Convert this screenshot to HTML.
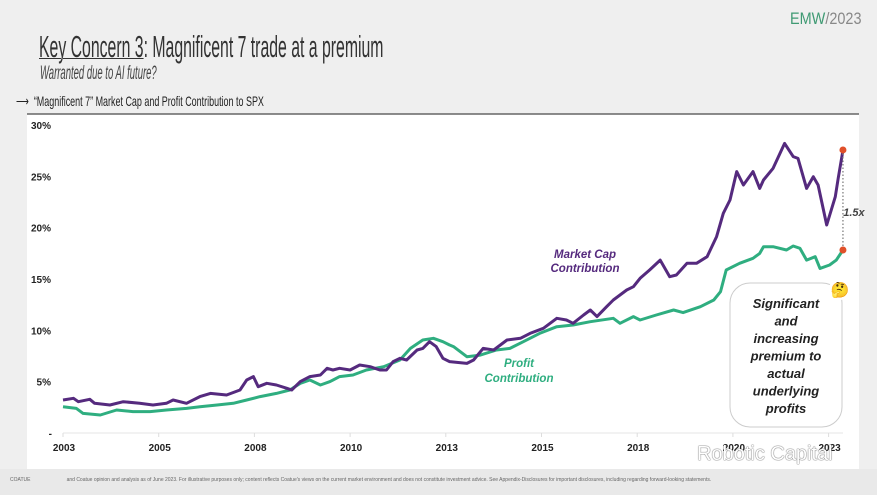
<!DOCTYPE html>
<html><head><meta charset="utf-8"><style>
html,body{margin:0;padding:0}
body{width:877px;height:495px;background:#efefef;position:relative;overflow:hidden;font-family:"Liberation Sans",sans-serif}
.abs{position:absolute;white-space:nowrap;transform-origin:0 0}
</style></head><body>
<div class="abs" style="left:790px;top:9px;font-size:17px;color:#888;transform:scaleX(0.85)"><span style="color:#3f9a73">EMW</span>/2023</div>
<div class="abs" style="left:39px;top:29px;font-size:31px;color:#333;transform:scaleX(0.51)"><span style="text-decoration:underline;text-decoration-thickness:1px">Key Concern 3</span>: Magnificent 7 trade at a premium</div>
<div class="abs" style="left:40px;top:63px;font-style:italic;font-size:19px;color:#444;transform:scaleX(0.5)">Warranted due to AI future?</div>
<div class="abs" style="left:16px;top:93px;font-size:14px;color:#222;transform:scaleX(0.64)">⟶&nbsp; “Magnificent 7” Market Cap and Profit Contribution to SPX</div>
<svg id="chart" width="877" height="495" style="position:absolute;left:0;top:0"></svg>
<div class="abs" style="left:10px;top:477px;font-size:5px;color:#666">COATUE &nbsp;&nbsp;&nbsp;&nbsp;&nbsp;&nbsp;&nbsp;&nbsp;&nbsp;&nbsp;&nbsp;&nbsp;&nbsp;&nbsp;&nbsp;&nbsp;&nbsp;&nbsp;&nbsp;&nbsp;&nbsp;&nbsp;&nbsp;&nbsp; and Coatue opinion and analysis as of June 2023. For illustrative purposes only; content reflects Coatue's views on the current market environment and does not constitute investment advice. See Appendix-Disclosures for important disclosures, including regarding forward-looking statements.</div>
<div class="abs" style="left:697px;top:443px;font-size:20px;color:#fff;text-shadow:0 0 1px #555,0 0 1px #555">Robotic Capital</div>
<script>
const yTicks=[0,5,10,15,20,25,30];
const yTickLabels=["-","5%","10%","15%","20%","25%","30%"];
const xTickLabels=["2003","2005","2008","2010","2013","2015","2018","2020","2023"];
const mcapT=[0,0.11,0.16,0.28,0.33,0.49,0.63,0.80,0.94,1.08,1.15,1.29,1.43,1.54,1.71,1.85,1.92,1.99,2.04,2.13,2.23,2.34,2.39,2.48,2.58,2.69,2.76,2.82,2.89,3.00,3.10,3.21,3.31,3.38,3.45,3.52,3.59,3.70,3.76,3.83,3.90,3.97,4.04,4.22,4.29,4.39,4.50,4.64,4.78,4.88,5.02,5.16,5.26,5.33,5.44,5.51,5.58,5.68,5.75,5.89,5.96,6.03,6.13,6.24,6.34,6.41,6.52,6.62,6.73,6.83,6.90,6.97,7.04,7.11,7.21,7.28,7.32,7.42,7.54,7.63,7.68,7.77,7.84,7.89,7.98,8.07,8.10,8.15];
const mcapV=[3.21,3.38,3.05,3.28,2.89,2.73,3.05,2.89,2.73,2.89,3.21,2.89,3.54,3.86,3.70,4.19,5.16,5.49,4.51,4.84,4.67,4.35,4.19,5.00,5.49,5.65,6.30,6.13,6.30,6.13,6.62,6.46,6.13,6.13,6.95,7.27,7.11,8.08,8.24,8.89,8.41,7.27,6.95,6.78,7.11,8.24,8.08,9.06,9.22,9.70,10.19,11.17,11.00,10.68,11.49,11.98,11.33,12.30,12.95,13.92,14.25,15.06,15.87,16.84,15.22,15.38,16.52,16.52,17.17,19.12,21.39,22.69,25.45,24.15,25.45,23.82,24.63,25.77,28.20,26.91,26.74,23.82,24.96,24.15,20.25,23.01,24.80,27.56];
const profitT=[0,0.14,0.21,0.39,0.56,0.73,0.91,1.08,1.29,1.43,1.61,1.78,1.92,2.06,2.23,2.37,2.48,2.58,2.69,2.79,2.89,3.03,3.17,3.35,3.52,3.63,3.76,3.87,3.97,4.04,4.08,4.22,4.36,4.53,4.67,4.81,4.98,5.16,5.33,5.51,5.75,5.82,5.96,6.03,6.20,6.38,6.48,6.66,6.80,6.87,6.93,7.07,7.21,7.28,7.32,7.42,7.56,7.63,7.70,7.77,7.86,7.91,8.01,8.08,8.15];
const profitV=[2.56,2.40,1.91,1.75,2.24,2.08,2.08,2.24,2.40,2.56,2.73,2.89,3.21,3.54,3.86,4.19,4.84,5.16,4.67,5.00,5.49,5.65,6.13,6.46,7.11,8.24,9.06,9.22,8.89,8.57,8.41,7.43,7.59,8.08,8.24,8.89,9.70,10.35,10.52,10.84,11.17,10.68,11.33,11.00,11.49,11.98,11.72,12.30,12.95,13.76,15.87,16.52,17.01,17.49,18.14,18.14,17.82,18.21,17.98,16.84,17.17,16.03,16.36,16.84,17.82];
const premiumLabel="1.5x";

const svg=document.getElementById('chart');
const NS='http://www.w3.org/2000/svg';
const X=t=>63+t*95.7;
const Y=v=>433-v*10.27;
function mk(tag,attrs){const e=document.createElementNS(NS,tag);for(const k in attrs)e.setAttribute(k,attrs[k]);svg.appendChild(e);return e;}
let e;
e=mk('rect',{x:27,y:114,width:832,height:355,fill:'#ffffff'});


e=mk('line',{x1:27,y1:114,x2:859,y2:114,stroke:'#666','stroke-width':1.5});


e=mk('rect',{x:0,y:469,width:877,height:26,fill:'#e9e9e9'});


e=mk('line',{x1:63,y1:433,x2:843,y2:433,stroke:'#e6e6e6','stroke-width':1});


yTicks.forEach((v,i)=>{
  const t=mk('text',{x:i===0?52:51,y:Y(v)+4,'text-anchor':'end','font-size':10,'font-weight':'bold',fill:'#222','font-family':'Liberation Sans, sans-serif'});
  t.textContent=yTickLabels[i];
  
  
});
xTickLabels.forEach((s,i)=>{
  const tk=mk('line',{x1:X(i),y1:433,x2:X(i),y2:437,stroke:'#ddd'});
  
  
  const t=mk('text',{x:X(i)+1,y:451,'text-anchor':'middle','font-size':10,'font-weight':'bold',fill:'#222','font-family':'Liberation Sans, sans-serif'});
  t.textContent=s;
  
  
});
function path(T,V){return T.map((t,i)=>(i?'L':'M')+X(t).toFixed(1)+','+Y(V[i]).toFixed(1)).join('');}
e=mk('path',{d:path(profitT,profitV),fill:'none',stroke:'#2fae80','stroke-width':3,'stroke-linejoin':'round'});


e=mk('path',{d:path(mcapT,mcapV),fill:'none',stroke:'#552a7e','stroke-width':3,'stroke-linejoin':'round'});


const lt=mcapT[mcapT.length-1], lm=mcapV[mcapV.length-1], lp=profitV[profitV.length-1];
e=mk('line',{x1:X(lt),y1:Y(lm),x2:X(lt),y2:Y(lp),stroke:'#777','stroke-width':1.2,'stroke-dasharray':'1.5,2'});


e=mk('circle',{cx:X(lt),cy:Y(lm),r:3.5,fill:'#e0502a'});


e=mk('circle',{cx:X(lt),cy:Y(lp),r:3.5,fill:'#e0502a'});


e=mk('text',{x:X(lt)+11,y:(Y(lm)+Y(lp))/2+16,'text-anchor':'middle','font-size':11,'font-weight':'bold','font-style':'italic',fill:'#444'});
e.textContent=premiumLabel;


[['Market Cap',258],['Contribution',272]].forEach(a=>{
  const t=mk('text',{x:585,y:a[1],'text-anchor':'middle','font-size':11.5,'font-weight':'bold','font-style':'italic',fill:'#552a7e'});
  t.textContent=a[0];
  
  
});
[['Profit',367],['Contribution',382]].forEach(a=>{
  const t=mk('text',{x:519,y:a[1],'text-anchor':'middle','font-size':11.5,'font-weight':'bold','font-style':'italic',fill:'#2fae80'});
  t.textContent=a[0];
  
  
});
e=mk('rect',{x:730,y:283,width:112,height:144,rx:20,fill:'#fff',stroke:'#ccc','stroke-width':1});


['Significant','and','increasing','premium to','actual','underlying','profits'].forEach((s,i)=>{
  const t=mk('text',{x:786,y:308+i*17.5,'text-anchor':'middle','font-size':13,'font-weight':'bold','font-style':'italic',fill:'#222'});
  t.textContent=s;
  
  
});
e=mk('circle',{cx:840,cy:289,r:11,fill:'#fff'});


e=mk('text',{x:840,y:295,'text-anchor':'middle','font-size':15,fill:'#e8a92a'});
e.textContent='🤔';


</script>
</body></html>
